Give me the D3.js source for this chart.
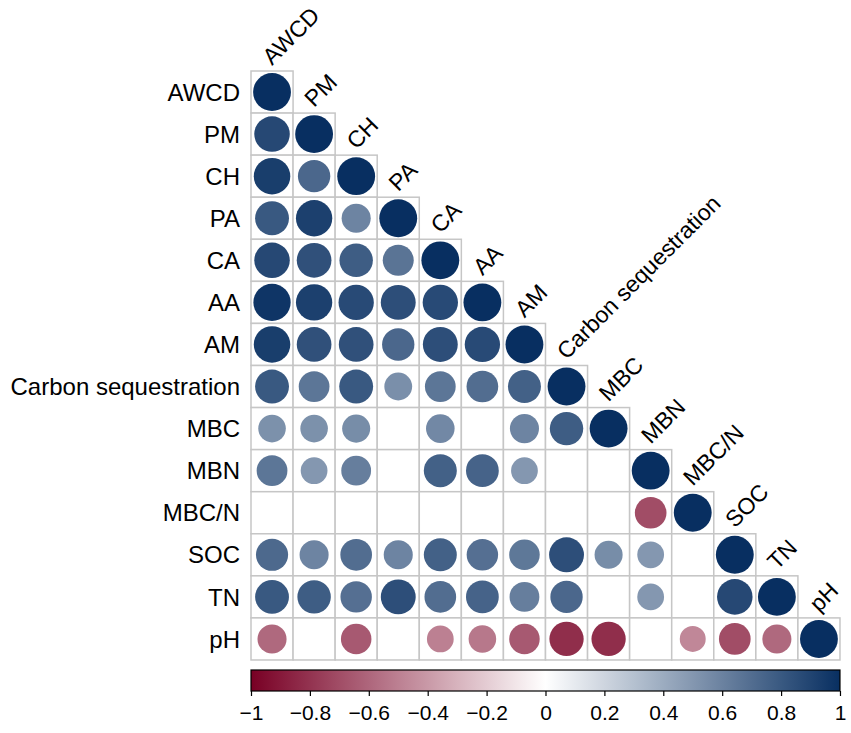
<!DOCTYPE html>
<html>
<head>
<meta charset="utf-8">
<script src="https://cdn.jsdelivr.net/npm/d3@7"></script>
<style>
  body { margin: 0; background: #fff; }
  text { font-family: "Liberation Sans", Arial, sans-serif; fill: #000; }
</style>
</head>
<body>
<div id="chart"></div>
<script>
// variable names, same order for rows and columns
const variables = ["AWCD", "PM", "CH", "PA", "CA", "AA", "AM", "Carbon sequestration",
    "MBC", "MBN", "MBC/N", "SOC", "TN", "pH"];

// lower triangle of the correlation matrix, null = not significant (blank cell)
const corrRows = [
    [1],
    [0.88, 1],
    [0.93, 0.73, 1],
    [0.80, 0.92, 0.59, 1],
    [0.88, 0.84, 0.78, 0.67, 1],
    [0.97, 0.92, 0.87, 0.85, 0.87, 1],
    [0.93, 0.84, 0.84, 0.73, 0.85, 0.87, 1],
    [0.80, 0.66, 0.80, 0.54, 0.66, 0.70, 0.76, 1],
    [0.53, 0.53, 0.55, null, 0.57, null, 0.59, 0.78, 1],
    [0.66, 0.50, 0.62, null, 0.76, 0.75, 0.50, null, null, 1],
    [null, null, null, null, null, null, null, null, null, -0.70, 1],
    [0.72, 0.59, 0.70, 0.59, 0.76, 0.69, 0.65, 0.85, 0.55, 0.50, null, 1],
    [0.80, 0.78, 0.69, 0.85, 0.70, 0.75, 0.62, 0.73, null, 0.50, null, 0.88, 1],
    [-0.59, null, -0.65, null, -0.50, -0.53, -0.65, -0.82, -0.82, null, -0.47, -0.70, -0.59, 1]
];

const legendTicks = [-1, -0.8, -0.6, -0.4, -0.2, 0, 0.2, 0.4, 0.6, 0.8, 1];

const width = 851, height = 733;
const gridLeft = 251, gridTop = 71, cell = 42.07;
const n = variables.length;

const svg = d3.select("#chart").append("svg")
    .attr("width", width)
    .attr("height", height);

const pos = d3.scaleBand()
    .domain(d3.range(n))
    .range([0, n * cell]);

const color = d3.scaleLinear()
    .domain([-1, 0, 1])
    .range(["#780024", "#ffffff", "#082f61"]);

// radius grows with sqrt(|r|), like corrplot's circle method
const radius = d3.scaleSqrt()
    .domain([0, 1])
    .range([0, cell * 0.45]);

const cells = [];
corrRows.forEach((row, i) => {
    row.forEach((v, j) => cells.push({ i: i, j: j, v: v }));
});

const grid = svg.append("g")
    .attr("transform", "translate(" + gridLeft + "," + gridTop + ")");

grid.selectAll("rect.cell")
    .data(cells)
    .join("rect")
    .attr("class", "cell")
    .attr("x", d => pos(d.j))
    .attr("y", d => pos(d.i))
    .attr("width", pos.bandwidth())
    .attr("height", pos.bandwidth())
    .attr("fill", "#fff")
    .attr("stroke", "#c6c6c6")
    .attr("stroke-width", 1.5);

grid.selectAll("circle")
    .data(cells.filter(d => d.v !== null))
    .join("circle")
    .attr("cx", d => pos(d.j) + pos.bandwidth() / 2)
    .attr("cy", d => pos(d.i) + pos.bandwidth() / 2)
    .attr("r", d => radius(Math.abs(d.v)))
    .attr("fill", d => color(d.v));

// row labels on the left
grid.selectAll("text.row")
    .data(variables)
    .join("text")
    .attr("class", "row")
    .attr("x", -11)
    .attr("y", (d, i) => pos(i) + pos.bandwidth() / 2)
    .attr("dy", "0.36em")
    .attr("text-anchor", "end")
    .style("font-size", "24px")
    .text(d => d);

// column labels along the diagonal, tilted 45 degrees
grid.selectAll("text.col")
    .data(variables)
    .join("text")
    .attr("class", "col")
    .attr("transform", (d, i) => "translate(" + (pos(i) + pos.bandwidth() / 2) + "," + (pos(i) - 5) + ") rotate(-45)")
    .attr("text-anchor", "start")
    .style("font-size", "23px")
    .text(d => d);

// colour legend
const barTop = 670, barHeight = 21;
const lx = d3.scaleLinear()
    .domain([-1, 1])
    .range([gridLeft, gridLeft + n * cell]);

const defs = svg.append("defs");
const grad = defs.append("linearGradient").attr("id", "rdbu");
d3.range(-1, 1.001, 0.1).forEach(t => {
    grad.append("stop")
        .attr("offset", ((t + 1) / 2 * 100) + "%")
        .attr("stop-color", color(t));
});

svg.append("rect")
    .attr("x", lx(-1))
    .attr("y", barTop)
    .attr("width", lx(1) - lx(-1))
    .attr("height", barHeight)
    .attr("fill", "url(#rdbu)")
    .attr("stroke", "#000")
    .attr("stroke-width", 1.2);

const legendAxis = d3.axisBottom(lx)
    .tickValues(legendTicks)
    .tickSize(5)
    .tickPadding(9)
    .tickFormat(d => d3.format("")(d).replace("-", "\u2212"));

const axisG = svg.append("g")
    .attr("transform", "translate(0," + (barTop + barHeight) + ")")
    .call(legendAxis);
axisG.select(".domain").remove();
axisG.selectAll(".tick line").attr("stroke", "#000").attr("stroke-width", 1.2);
axisG.selectAll(".tick text")
    .style("font-family", "'Liberation Sans', Arial, sans-serif")
    .style("font-size", "21px")
    .attr("fill", "#000");
</script>
</body>
</html>
